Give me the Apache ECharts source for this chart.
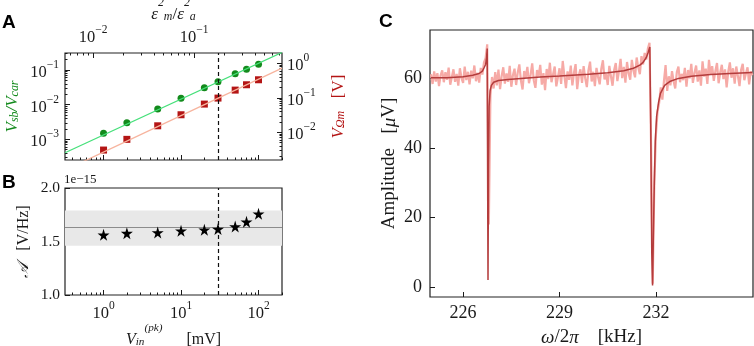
<!DOCTYPE html>
<html>
<head>
<meta charset="utf-8">
<script src="https://cdn.jsdelivr.net/npm/echarts@6/dist/echarts.min.js"></script>
<style>html,body{margin:0;background:#fff}#chart{width:754px;height:346px}</style>
</head>
<body>
<div id="chart"></div>
<script>
// panel A / B: drive amplitude sweep
const vin = [1, 2, 5, 10, 20, 30, 50, 70, 100]
const sbRatio = [1.49e-3, 3.0e-3, 7.5e-3, 0.0152, 0.031, 0.046, 0.078, 0.105, 0.146]
const vOmega = [3.07e-3, 6.27e-3, 0.0155, 0.0324, 0.066, 0.0986, 0.168, 0.24, 0.335]
const sbFit = [[0.318, 4.1e-4], [201, 0.321]]
const omegaFit = [[0.318, 8.0e-4], [201, 0.727]]
const responsivity = [1.562, 1.578, 1.584, 1.6, 1.609, 1.616, 1.64, 1.684, 1.759]
const respMean = 1.625
const respBand = [1.46, 1.79]
const vinMarker = 30

// panel C: spectrum
const fitFreq = [225.0, 225.5, 226.0, 226.3, 226.5, 226.6, 226.66, 226.7, 226.73, 226.75, 226.76, 226.775, 226.79, 226.81, 226.84, 226.88, 226.95, 227.1, 227.4, 227.8, 228.4, 229.0, 229.9, 230.5, 231.0, 231.3, 231.5, 231.6, 231.7, 231.76, 231.81, 231.84, 231.87, 231.895, 231.92, 231.95, 231.98, 232.02, 232.08, 232.14, 232.27, 232.45, 232.7, 233.1, 233.7, 234.3, 235.0]
const fitAmp = [60.2, 60.2, 60.5, 60.9, 61.4, 62.1, 63.2, 64.0, 66.0, 68.6, 40, 2.1, 35, 52, 56.5, 58.0, 58.9, 59.4, 59.7, 60.0, 60.4, 60.7, 61.2, 61.6, 62.2, 62.9, 63.8, 64.6, 66.0, 67.5, 69.0, 45, 10, 0.5, 15, 30, 42, 49, 53, 55.7, 58.0, 59.2, 60.0, 60.6, 61.1, 61.4, 61.7]
const noiseStart = 225
const noiseStep = 0.05
const noiseAmp = [
  61.2, 58.4, 62.0, 59.1, 61.5, 57.8, 60.9, 62.3, 58.9, 61.8,
  59.6, 63.1, 58.2, 60.4, 62.6, 59.0, 61.3, 57.9, 62.9, 60.1,
  58.7, 63.4, 59.5, 61.9, 58.3, 62.2, 60.0, 63.7, 59.2, 61.6,
  58.8, 63.0, 61.1, 64.6, 65.8, 69.8, 18.0, 55.2, 60.4, 57.1,
  61.8, 58.0, 62.5, 56.9, 60.7, 63.2, 58.5, 61.4, 59.0, 63.6,
  57.6, 60.9, 62.8, 58.1, 61.7, 64.0, 59.3, 56.8, 62.1, 60.2,
  63.3, 58.6, 61.0, 64.3, 59.4, 57.3, 62.4, 60.6, 63.9, 58.2,
  61.5, 56.6, 62.7, 59.8, 64.5, 58.9, 61.2, 63.4, 57.7, 60.3,
  62.9, 58.4, 65.0, 60.8, 57.2, 62.0, 59.6, 63.7, 58.0, 61.6,
  64.1, 56.9, 60.9, 62.6, 58.7, 63.5, 60.0, 57.5, 62.3, 64.8,
  59.1, 61.9, 57.8, 63.0, 60.4, 58.3, 62.8, 65.2, 59.7, 61.3,
  58.1, 63.6, 60.6, 57.9, 62.4, 64.4, 59.2, 62.0, 65.6, 60.1,
  63.3, 58.8, 64.7, 61.4, 59.6, 65.3, 62.2, 60.3, 66.0, 63.1,
  61.2, 66.4, 64.0, 67.3, 65.4, 68.6, 70.2, 40.0, 1.0, 30.0,
  44.0, 50.5, 53.0, 57.4, 53.9, 59.3, 63.8, 56.4, 60.6, 58.0,
  62.1, 59.2, 57.1, 61.8, 63.4, 58.9, 61.3, 59.5, 63.0, 57.6,
  62.4, 60.0, 64.2, 58.7, 61.6, 63.7, 59.1, 62.3, 57.9, 64.9,
  60.5, 62.8, 58.4, 65.3, 61.0, 63.5, 59.3, 62.1, 64.4, 58.6,
  61.7, 63.9, 59.8, 62.6, 57.4, 61.9, 64.6, 60.2, 62.9, 58.5,
  63.4, 60.7, 57.8, 62.5, 64.2, 59.5, 61.4, 63.2, 58.3, 62.0,
  60.9
]

// ticks
const vinTicks = [1, 10, 100]
const epsTicks = [0.01, 0.1]
const sbTicks = [1e-3, 1e-2, 1e-1]
const omegaTicks = [1e-2, 1e-1, 1]
const freqTicks = [226, 229, 232]
const ampTicks = [0, 20, 40, 60]

const vinRange = [0.318, 201]
const epsRange = [0.00528, 0.743]
const sbRange = [2.53e-4, 0.31]
const omegaRange = [1.58e-3, 2.0]

const SERIF = 'Liberation Serif'
const INK = '#1a1a1a'
const GREEN = '#138a1c'
const RED = '#b41515'

const richSm = {
  b: { fontFamily: SERIF, fontSize: 16.5, lineHeight: 22, verticalAlign: 'bottom', color: INK },
  s: { fontFamily: SERIF, fontSize: 11.5, lineHeight: 11, verticalAlign: 'top', color: INK },
}
const pow10 = (v) => {
  const e = Math.round(Math.log10(v))
  return '{b|10}{s|' + (e < 0 ? '−' + -e : e) + '}'
}
function minorTicks(lo, hi) {
  const out = []
  for (let e = Math.floor(Math.log10(lo)); e <= Math.ceil(Math.log10(hi)); e++) {
    for (let k = 2; k < 10; k++) {
      const v = k * Math.pow(10, e)
      if (v > lo && v < hi) out.push(v)
    }
  }
  return out
}
function nameRich(color, size) {
  const base = { fontFamily: SERIF, fontSize: size, color, lineHeight: size + 9, verticalAlign: 'bottom' }
  return {
    n: base,
    i: { ...base, fontStyle: 'italic' },
    sup: { fontFamily: SERIF, fontStyle: 'italic', fontSize: size * 0.7, color, lineHeight: 12, verticalAlign: 'top' },
    sub: { fontFamily: SERIF, fontStyle: 'italic', fontSize: size * 0.7, color, lineHeight: 9, verticalAlign: 'bottom' },
  }
}
const hidden = { axisLine: { show: false, onZero: false }, splitLine: { show: false } }
const tick = (len, values) => ({ show: true, inside: true, length: len, customValues: values, lineStyle: { color: INK, width: 1 } })

function logAxis(o) {
  const major = {
    type: 'log', gridIndex: o.grid, position: o.position, min: o.range[0], max: o.range[1],
    ...hidden,
    axisTick: tick(5, o.ticks),
    axisLabel: o.labels
      ? { show: true, customValues: o.ticks, formatter: pow10, rich: richSm, margin: o.margin || 6 }
      : { show: false },
    name: o.name, nameLocation: 'middle', nameGap: o.nameGap, nameRotate: o.nameRotate,
    nameTextStyle: o.nameRich ? { rich: o.nameRich } : undefined,
  }
  const minor = {
    type: 'log', gridIndex: o.grid, position: o.position, min: o.range[0], max: o.range[1],
    ...hidden,
    axisTick: tick(2.5, minorTicks(o.range[0], o.range[1])),
    axisLabel: { show: false },
  }
  return [major, minor]
}

const grids = [
  { left: 65, top: 53, width: 217, height: 107 },
  { left: 65, top: 188, width: 217, height: 107 },
  { left: 430, top: 30, width: 323, height: 267 },
].map((g) => ({ ...g, show: true, borderColor: '#222', borderWidth: 1.2, backgroundColor: 'transparent', outerBoundsMode: 'none' }))

const xAxes = [
  ...logAxis({ grid: 0, position: 'bottom', range: vinRange, ticks: vinTicks }),
  ...logAxis({
    grid: 0, position: 'top', range: epsRange, ticks: epsTicks, labels: true, margin: 7,
    name: '{i|ε}{sup|2}{sub|m}{n|/}{i|ε}{sup|2}{sub|a}', nameGap: 24, nameRich: nameRich(INK, 17),
  }),
  ...logAxis({
    grid: 1, position: 'bottom', range: vinRange, ticks: vinTicks, labels: true, margin: 5,
    name: '{i|V}{sub|in}{sup|(pk)}{n|      [mV]}', nameGap: 17, nameRich: nameRich(INK, 16),
  }),
  {
    type: 'value', gridIndex: 2, min: 224.97, max: 235.02, ...hidden,
    axisTick: tick(5, freqTicks),
    axisLabel: { show: true, customValues: freqTicks, fontFamily: SERIF, fontSize: 18, color: INK, margin: 7 },
    name: '{i|ω}{n|/2}{i|π}{n|    [kHz]}', nameLocation: 'middle', nameGap: 22,
    nameTextStyle: { rich: nameRich(INK, 19) },
  },
]

const yAxes = [
  logAxis({
    grid: 0, position: 'left', range: sbRange, ticks: sbTicks, labels: true, margin: 6,
    name: '{i|V}{sub|sb}{i|/V}{sub|car}', nameGap: 44, nameRotate: 90, nameRich: nameRich(GREEN, 17),
  })[0],
  logAxis({
    grid: 0, position: 'right', range: omegaRange, ticks: omegaTicks, labels: true, margin: 5,
    name: '{i|V}{sub|Ωm}{n|   [V]}', nameGap: 39, nameRotate: 90, nameRich: nameRich(RED, 17),
  })[0],
  logAxis({ grid: 0, position: 'left', range: sbRange, ticks: sbTicks })[1],
  logAxis({ grid: 0, position: 'right', range: omegaRange, ticks: omegaTicks })[1],
  {
    type: 'value', gridIndex: 1, min: 1, max: 2, interval: 0.5, ...hidden,
    axisTick: { show: true, inside: true, length: 5, lineStyle: { color: INK, width: 1 } },
    axisLabel: { show: true, fontFamily: SERIF, fontSize: 15.5, color: INK, margin: 5, formatter: (v) => v.toFixed(1) },
    name: '{i|𝒜}{n|   [V/Hz]}', nameLocation: 'middle', nameGap: 33, nameRotate: 90,
    nameTextStyle: { rich: nameRich(INK, 16) },
  },
  {
    type: 'value', gridIndex: 2, min: -2.8, max: 73.9, ...hidden,
    axisTick: tick(5, ampTicks),
    axisLabel: { show: true, customValues: ampTicks, fontFamily: SERIF, fontSize: 18, color: INK, margin: 8 },
    name: '{n|Amplitude   [}{i|μ}{n|V]}', nameLocation: 'middle', nameGap: 31, nameRotate: 90,
    nameTextStyle: { rich: nameRich(INK, 19) },
  },
]

const markerLine = {
  silent: true, symbol: 'none', label: { show: false },
  lineStyle: { type: [4, 3], color: '#111', width: 1.2 },
  data: [{ xAxis: vinMarker }],
}
const star = 'path://M50,0 L61,35 L98,35 L68,57 L79,91 L50,70 L21,91 L32,57 L2,35 L39,35 Z'

const chart = echarts.init(document.getElementById('chart'), null, { renderer: 'canvas' })
chart.setOption({
  animation: false,
  backgroundColor: '#fff',
  grid: grids,
  xAxis: xAxes,
  yAxis: yAxes,
  graphic: [
    { type: 'text', left: 2, top: 13, style: { text: 'A', font: 'bold 19px "Liberation Sans"', fill: '#000' } },
    { type: 'text', left: 2, top: 173, style: { text: 'B', font: 'bold 19px "Liberation Sans"', fill: '#000' } },
    { type: 'text', left: 379, top: 12, style: { text: 'C', font: 'bold 19px "Liberation Sans"', fill: '#000' } },
    { type: 'text', left: 64, top: 173, style: { text: '1e−15', font: '13px "Liberation Serif"', fill: INK } },
  ],
  series: [
    {
      type: 'line', xAxisIndex: 0, yAxisIndex: 0, data: sbFit, showSymbol: false,
      lineStyle: { color: '#46e07a', width: 1.3 }, silent: true,
    },
    {
      type: 'line', xAxisIndex: 0, yAxisIndex: 1, data: omegaFit, showSymbol: false,
      lineStyle: { color: '#f7b49e', width: 1.3 }, silent: true,
    },
    {
      type: 'scatter', xAxisIndex: 0, yAxisIndex: 0, symbol: 'circle', symbolSize: 7,
      itemStyle: { color: GREEN, opacity: 1 }, data: vin.map((v, i) => [v, sbRatio[i]]),
      markLine: markerLine,
    },
    {
      type: 'scatter', xAxisIndex: 0, yAxisIndex: 1, symbol: 'rect', symbolSize: 7,
      itemStyle: { color: RED, opacity: 1 }, data: vin.map((v, i) => [v, vOmega[i]]),
    },
    {
      type: 'scatter', xAxisIndex: 4, yAxisIndex: 4, symbol: star, symbolSize: 12,
      itemStyle: { color: '#000', opacity: 1 }, data: vin.map((v, i) => [v, responsivity[i]]), z: 5,
      markArea: {
        silent: true, itemStyle: { color: '#e8e8e8' },
        data: [[{ yAxis: respBand[0] }, { yAxis: respBand[1] }]],
      },
      markLine: {
        silent: true, symbol: 'none', label: { show: false },
        data: [{ yAxis: respMean, lineStyle: { type: 'solid', color: '#8c8c8c', width: 1 } }, { xAxis: vinMarker }],
        lineStyle: { type: [4, 3], color: '#111', width: 1.2 },
      },
    },
    {
      type: 'line', xAxisIndex: 6, yAxisIndex: 5, showSymbol: false, silent: true,
      data: noiseAmp.map((a, i) => [noiseStart + i * noiseStep, a]),
      lineStyle: { color: '#f6aaa6', width: 2.2 },
    },
    {
      type: 'line', xAxisIndex: 6, yAxisIndex: 5, showSymbol: false, silent: true,
      data: fitFreq.map((f, i) => [f, fitAmp[i]]),
      lineStyle: { color: '#b43c3c', width: 1.5 },
    },
  ],
})
</script>
</body>
</html>
